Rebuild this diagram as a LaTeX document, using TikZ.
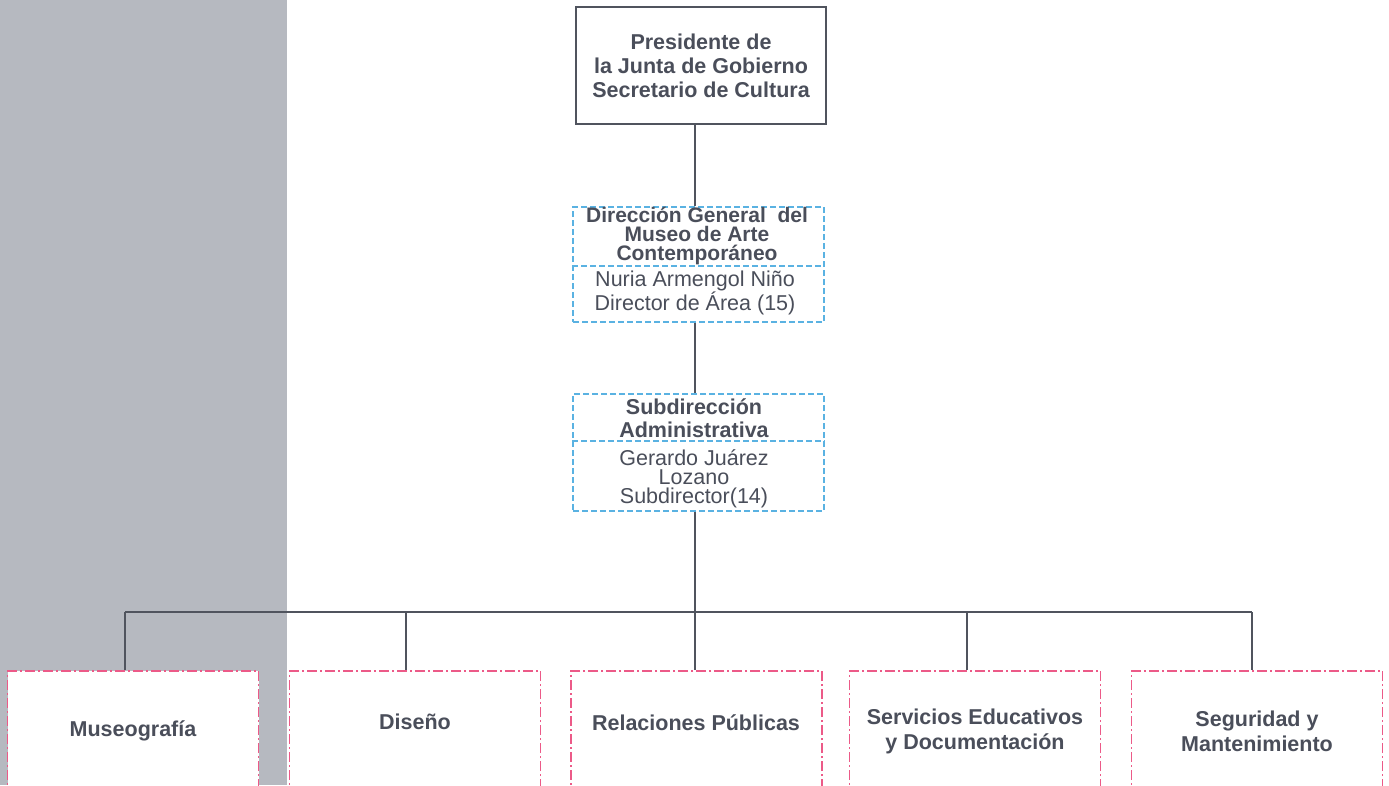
\documentclass[tikz,border=0pt]{standalone}
\usepackage{fontspec}
\setmainfont{Liberation Sans}
\definecolor{txt}{HTML}{4A4E5A}
\definecolor{bandc}{HTML}{B6B9C0}
\definecolor{linec}{HTML}{50545E}
\definecolor{bluec}{HTML}{5AB2E2}
\definecolor{pinkc}{HTML}{EC5A88}
\begin{document}
\begin{tikzpicture}[x=1pt,y=-1pt,
  solidbox/.style={draw=linec, line width=1.4pt, minimum width=250pt, minimum height=117pt, inner sep=0pt},
  bluebox/.style={draw=bluec, line width=1.4pt, dash pattern=on 6pt off 3pt, minimum width=251pt, inner sep=0pt},
  bluediv/.style={draw=bluec, line width=1.4pt, dash pattern=on 6pt off 3pt},
  pinkbox/.style={draw=pinkc, fill=white, line width=1.4pt, dash pattern=on 10pt off 3pt on 2pt off 3pt, minimum width=251pt, minimum height=119pt, inner sep=0pt},
  conn/.style={draw=linec, line width=1.2pt},
  ttl/.style={text=txt, align=center, inner sep=0pt, font=\fontsize{21.5}{24}\selectfont\bfseries},
  nm/.style={text=txt, align=center, inner sep=0pt, font=\fontsize{21.5}{17}\selectfont}
]
\useasboundingbox (0,0) rectangle (1389,785);
\clip (0,0) rectangle (1389,785);
\fill[bandc] (0,0) rectangle (287,785);

% top box
\node[solidbox, ttl] (pres) at (701,65.5) {Presidente de\\la Junta de Gobierno\\Secretario de Cultura};

% direccion general
\node[bluebox, minimum height=115pt] (dir) at (698.5,264.5) {};
\node[ttl, font=\fontsize{21}{19}\selectfont\bfseries] (dirt) at (697,236) {Dirección General\ \ del\\Museo de Arte\\Contemporáneo};
\node[nm] (dirn) at (695,293) {Nuria Armengol Niño\\Director de Área (15)};
\draw[bluediv] (dir.west |- 0,266) -- (dir.east |- 0,266);

% subdireccion
\node[bluebox, minimum height=117pt] (sub) at (698.5,452.5) {};
\node[ttl, font=\fontsize{21.5}{23}\selectfont\bfseries] (subt) at (694,418) {Subdirección\\Administrativa};
\node[nm, font=\fontsize{21.5}{19}\selectfont] (subn) at (694,479) {Gerardo Juárez\\Lozano\\Subdirector(14)};
\draw[bluediv] (sub.west |- 0,441) -- (sub.east |- 0,441);

% bottom boxes
\node[pinkbox] (mus) at (133,730.5) {};
\node[pinkbox] (dis) at (415,730.5) {};
\node[pinkbox] (rel) at (696.5,730.5) {};
\node[pinkbox] (ser) at (975,730.5) {};
\node[pinkbox] (seg) at (1257,730.5) {};
\node[ttl] (must) at (133,731) {Museografía};
\node[ttl] (dist) at (415,722) {Diseño};
\node[ttl] (relt) at (696,723) {Relaciones Públicas};
\node[ttl, font=\fontsize{21.5}{25}\selectfont\bfseries] (sert) at (975,731) {Servicios Educativos\\y Documentación};
\node[ttl, font=\fontsize{21.5}{25}\selectfont\bfseries] (segt) at (1257,731) {Seguridad y\\Mantenimiento};

% connectors
\coordinate (spine) at (695,0);
\coordinate (bus) at (695,612);
\draw[conn] (pres.south -| spine) -- (dir.north -| spine);
\draw[conn] (dir.south -| spine) -- (sub.north -| spine);
\draw[conn] (sub.south -| spine) -- (bus);
\coordinate (d1) at (125,612);
\coordinate (d5) at (1252,612);
\draw[conn] (d1) -- (d5);
\draw[conn] (d1) -- (mus.north -| d1);
\draw[conn] (406,612) -- (dis.north -| 406,0);
\draw[conn] (bus) -- (rel.north -| bus);
\draw[conn] (967,612) -- (ser.north -| 967,0);
\draw[conn] (d5) -- (seg.north -| d5);
\end{tikzpicture}
\end{document}
